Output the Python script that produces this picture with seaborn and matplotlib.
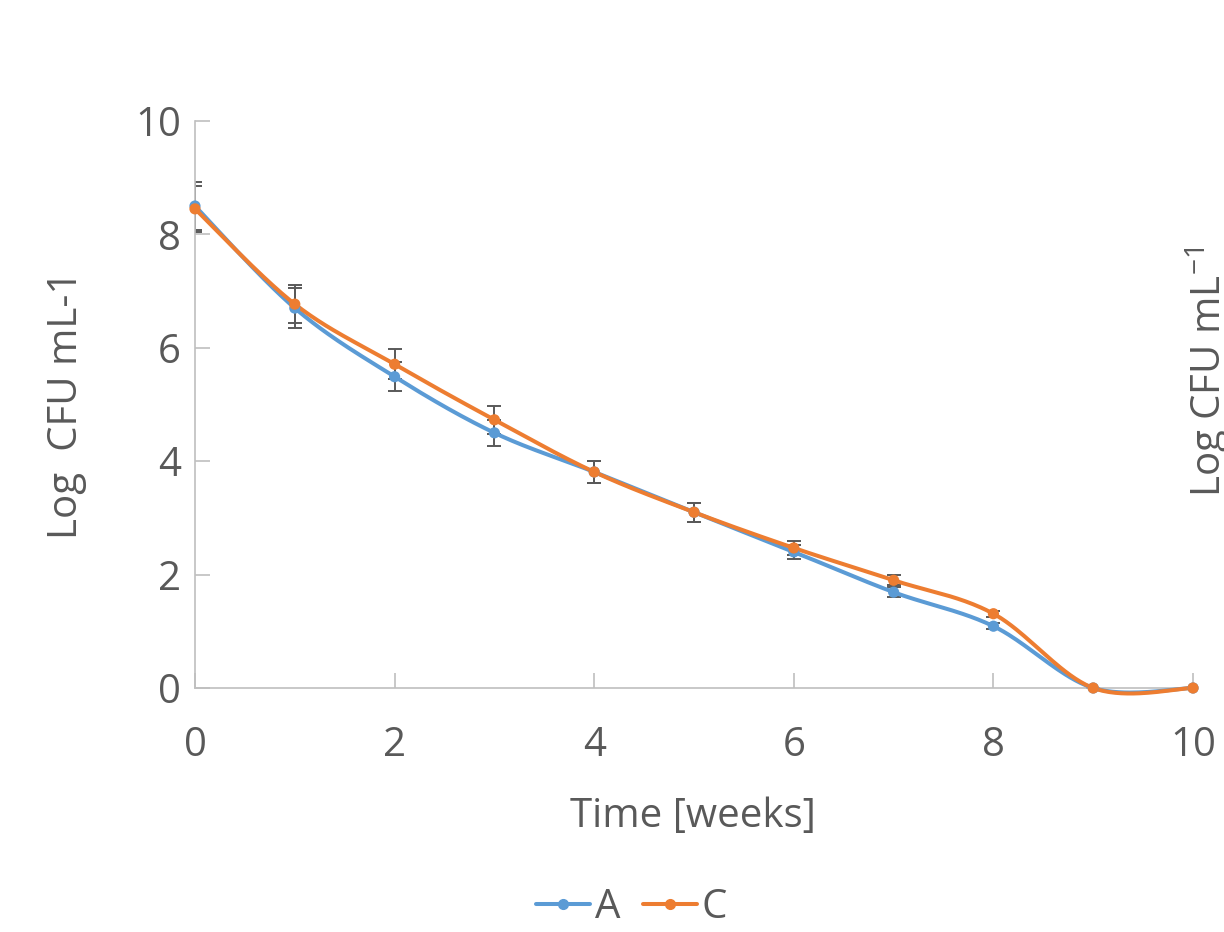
import numpy as np
import pandas as pd
import matplotlib.pyplot as plt
import seaborn as sns
from matplotlib.lines import Line2D

sns.set_theme(style='white')
plt.rcParams['font.family'] = ['Open Sans', 'DejaVu Sans']
plt.rcParams['mathtext.fontset'] = 'custom'
plt.rcParams['mathtext.rm'] = 'Open Sans'

weeks = [0, 1, 2, 3, 4, 5, 6, 7, 8, 9, 10]
a_vals = [8.50, 6.70, 5.49, 4.50, 3.81, 3.10, 2.40, 1.69, 1.09, 0.0, 0.0]
c_vals = [8.45, 6.77, 5.71, 4.73, 3.81, 3.10, 2.47, 1.90, 1.31, 0.0, 0.0]
a_err = [0.42, 0.35, 0.26, 0.23, 0.19, 0.17, 0.12, 0.09, 0.05, 0.0, 0.0]
c_err = [0.40, 0.34, 0.26, 0.25, 0.19, 0.17, 0.12, 0.09, 0.05, 0.0, 0.0]

blue = '#5B9BD5'
orange = '#ED7D31'
grey_text = '#595959'
fs = 29


def smooth(x, y, n=40):
    # Excel style smoothed line: Bezier with Catmull-Rom control points
    p = np.column_stack([x, y]).astype(float)
    p = np.vstack([p[0], p, p[-1]])
    out = []
    t = np.linspace(0, 1, n)[:, None]
    for i in range(1, len(p) - 2):
        p0, p1, p2, p3 = p[i - 1], p[i], p[i + 1], p[i + 2]
        c1 = p1 + (p2 - p0) / 6
        c2 = p2 - (p3 - p1) / 6
        seg = ((1 - t) ** 3) * p1 + 3 * ((1 - t) ** 2) * t * c1 + 3 * (1 - t) * t ** 2 * c2 + t ** 3 * p2
        out.append(seg if i == 1 else seg[1:])
    s = np.vstack(out)
    return s[:, 0], s[:, 1]


curves = []
for name, vals in [('A', a_vals), ('C', c_vals)]:
    sx, sy = smooth(weeks, vals)
    curves.append(pd.DataFrame({'x': sx, 'y': sy, 'series': name}))
curves = pd.concat(curves, ignore_index=True)
points = pd.concat([
    pd.DataFrame({'x': weeks, 'y': a_vals, 'series': 'A'}),
    pd.DataFrame({'x': weeks, 'y': c_vals, 'series': 'C'}),
], ignore_index=True)
palette = {'A': blue, 'C': orange}

fig = plt.figure(figsize=(12.24, 9.32), dpi=100)
ax = fig.add_axes([0.1593, 0.2618, 0.8154, 0.6084])

ax.errorbar(weeks, a_vals, yerr=a_err, fmt='none', ecolor=grey_text, elinewidth=1.4,
            capsize=4.7, capthick=1.4, zorder=2)
ax.errorbar(weeks, c_vals, yerr=c_err, fmt='none', ecolor=grey_text, elinewidth=1.4,
            capsize=4.7, capthick=1.4, zorder=2)

sns.lineplot(data=curves, x='x', y='y', hue='series', palette=palette, sort=False,
             estimator=None, linewidth=2.9, legend=False, ax=ax, zorder=3)
sns.scatterplot(data=points, x='x', y='y', hue='series', palette=palette, s=65,
                edgecolor='none', legend=False, ax=ax, zorder=4, clip_on=False)
for ln in ax.get_lines():
    if ln.get_zorder() == 3:
        ln.set_clip_on(False)

ax.set_xlim(0, 10)
ax.set_ylim(0, 10)
ax.set_xticks(range(0, 11, 2))
ax.set_yticks(range(0, 11, 2))
ax.tick_params(axis='both', direction='in', length=11, width=1.2, color='#BFBFBF',
               labelsize=fs, labelcolor=grey_text)
ax.tick_params(axis='y', pad=10, left=True)
ax.tick_params(axis='x', pad=27, bottom=True)
for side in ['top', 'right']:
    ax.spines[side].set_visible(False)
for side in ['left', 'bottom']:
    ax.spines[side].set_color('#BFBFBF')
    ax.spines[side].set_linewidth(1.2)
ax.grid(False)

ax.set_xlabel('Time [weeks]', fontsize=fs, color=grey_text)
ax.set_ylabel('Log  CFU mL-1', fontsize=fs, color=grey_text)
ax.xaxis.set_label_coords(0.499, -0.2275)
ax.yaxis.set_label_coords(-0.128, 0.5)
ax.xaxis.label.set_va('center')
ax.yaxis.label.set_va('center')

# second axis title, partly outside the figure as in the original export
fig.text(0.987, 0.601, r'Log CFU mL$^{-1}$', rotation=90, fontsize=fs, color=grey_text,
         ha='center', va='center')

handles = [Line2D([0], [0], color=blue, lw=2.9, marker='o', markersize=7),
           Line2D([0], [0], color=orange, lw=2.9, marker='o', markersize=7)]
leg = fig.legend(handles, ['A', 'C'], loc='center', bbox_to_anchor=(0.516, 0.026), ncol=2,
                 frameon=False, fontsize=fs, handlelength=1.35, handletextpad=0.12,
                 columnspacing=0.55, borderpad=0.2)
for t in leg.get_texts():
    t.set_color(grey_text)

fig.savefig('out.png', dpi=100)
